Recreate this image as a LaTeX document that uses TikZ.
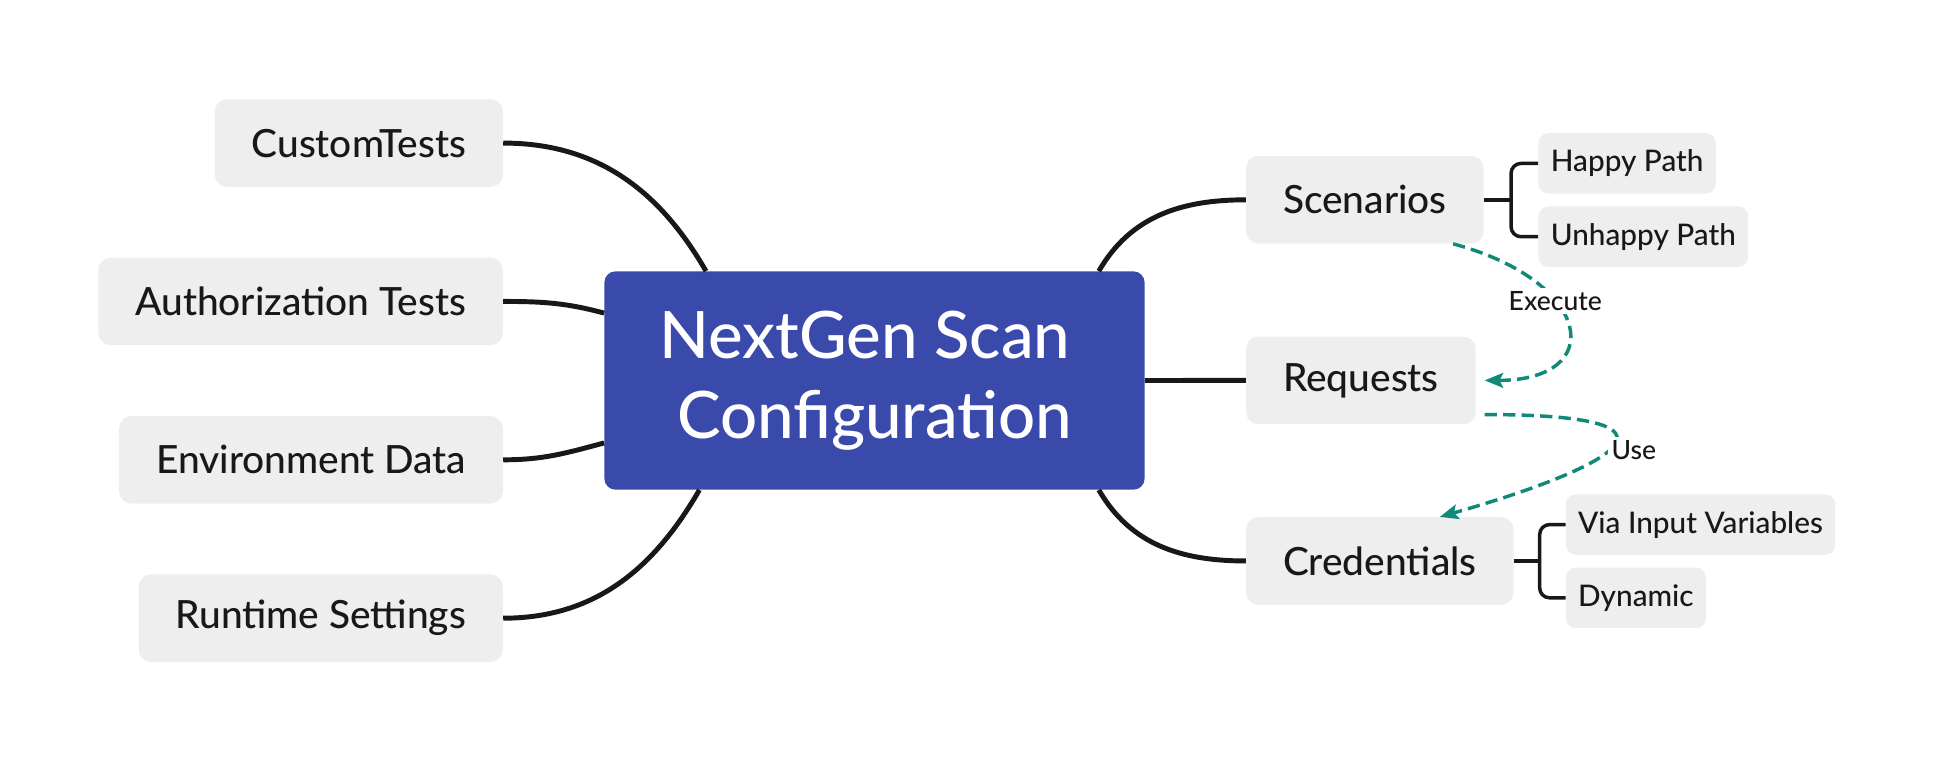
\documentclass[tikz,border=0pt]{standalone}
\usepackage{fontspec}
\setmainfont{Lato Medium}
\usetikzlibrary{arrows.meta,positioning}
\definecolor{rootblue}{RGB}{58,74,170}
\definecolor{boxgray}{RGB}{238,238,238}
\definecolor{linkteal}{RGB}{16,137,121}
\definecolor{inkblack}{RGB}{24,24,24}

\begin{document}
\begin{tikzpicture}[
  x=1pt,y=1pt,
  root/.style={
    fill=rootblue,
    text=white,
    rounded corners=9pt,
    minimum width=438pt,
    minimum height=177pt,
    align=center,
    font=\fontsize{53}{65}\selectfont
  },
  topic/.style={
    fill=boxgray,
    text=inkblack,
    rounded corners=10pt,
    minimum height=71pt,
    inner xsep=30pt,
    font=\fontsize{31.5}{38}\selectfont
  },
  leaf/.style={
    fill=boxgray,
    text=inkblack,
    rounded corners=8pt,
    minimum height=49pt,
    inner xsep=10pt,
    font=\fontsize{24.1}{29}\selectfont
  },
  branch/.style={draw=inkblack,line width=4pt},
  twig/.style={draw=inkblack,line width=2.8pt,rounded corners=8pt},
  rel/.style={
    draw=linkteal,
    line width=2.8pt,
    dash pattern=on 10pt off 5pt,
    -{Stealth[length=15pt,width=12pt,inset=3pt]}
  },
  rellabel/.style={fill=white,text=inkblack,inner sep=3pt,font=\fontsize{21.5}{26}\selectfont}
]
\useasboundingbox (0,0) rectangle (1568,-618);

\node[root] (root) at (709,-308.5) {NextGen Scan\kern.3em\\Configuration};

% left side
\node[topic,anchor=east] (ct) at (408,-116) {CustomTests};
\node[topic,below left=57pt and 0pt of ct.south east] (at) {Authorization Tests};
\node[topic,below left=57pt and 0pt of at.south east] (env) {Environment Data};
\node[topic,below left=57pt and 0pt of env.south east] (rt) {Runtime Settings};

% right side
\node[topic,anchor=west] (sc) at (1010,-162) {Scenarios};
\node[topic,below right=75pt and 0pt of sc.south west] (req) {Requests};
\node[topic,below right=75pt and 0pt of req.south west] (cr) {Credentials};

\node[leaf,right=44pt of sc.east,yshift=29.5pt] (hp) {Happy Path};
\node[leaf,below right=10pt and 0pt of hp.south west] (uh) {Unhappy Path};
\node[leaf,right=42pt of cr.east,yshift=29.5pt] (via) {Via Input Variables};
\node[leaf,below right=10pt and 0pt of via.south west] (dyn) {Dynamic};

% branches
\draw[branch] (root.147) to[out=120,in=0] (ct.east);
\draw[branch] (root.166.4) to[out=165,in=0] (at.east);
\draw[branch] (root.193.9) to[out=195,in=0] (env.east);
\draw[branch] (root.212.5) to[out=240,in=0] (rt.east);
\draw[branch] (root.26) to[out=60,in=180] (sc.west);
\draw[branch] (root.east) -- (req.west);
\draw[branch] (root.334) to[out=300,in=180] (cr.west);

% brackets
\coordinate (scj) at ([xshift=22pt]sc.east);
\draw[twig] (sc.east) -- (scj);
\draw[twig] (hp.west) -| (scj) |- (uh.west);
\coordinate (crj) at ([xshift=21pt]cr.east);
\draw[twig] (cr.east) -- (crj);
\draw[twig] (via.west) -| (crj) |- (dyn.west);

% relations
\draw[rel] ([xshift=-25pt]sc.south east) to[out=-15,in=0,out distance=118pt,in distance=100pt]
  node[rellabel,pos=.36] {Execute} ([xshift=7pt]req.east);
\draw[rel] ([xshift=7pt,yshift=8pt]req.south east) to[out=0,in=16,out distance=180pt,in distance=150pt]
  node[rellabel,pos=.53,anchor=west,xshift=-2pt] {Use} ([xshift=-60pt]cr.north east);
\end{tikzpicture}
\end{document}
